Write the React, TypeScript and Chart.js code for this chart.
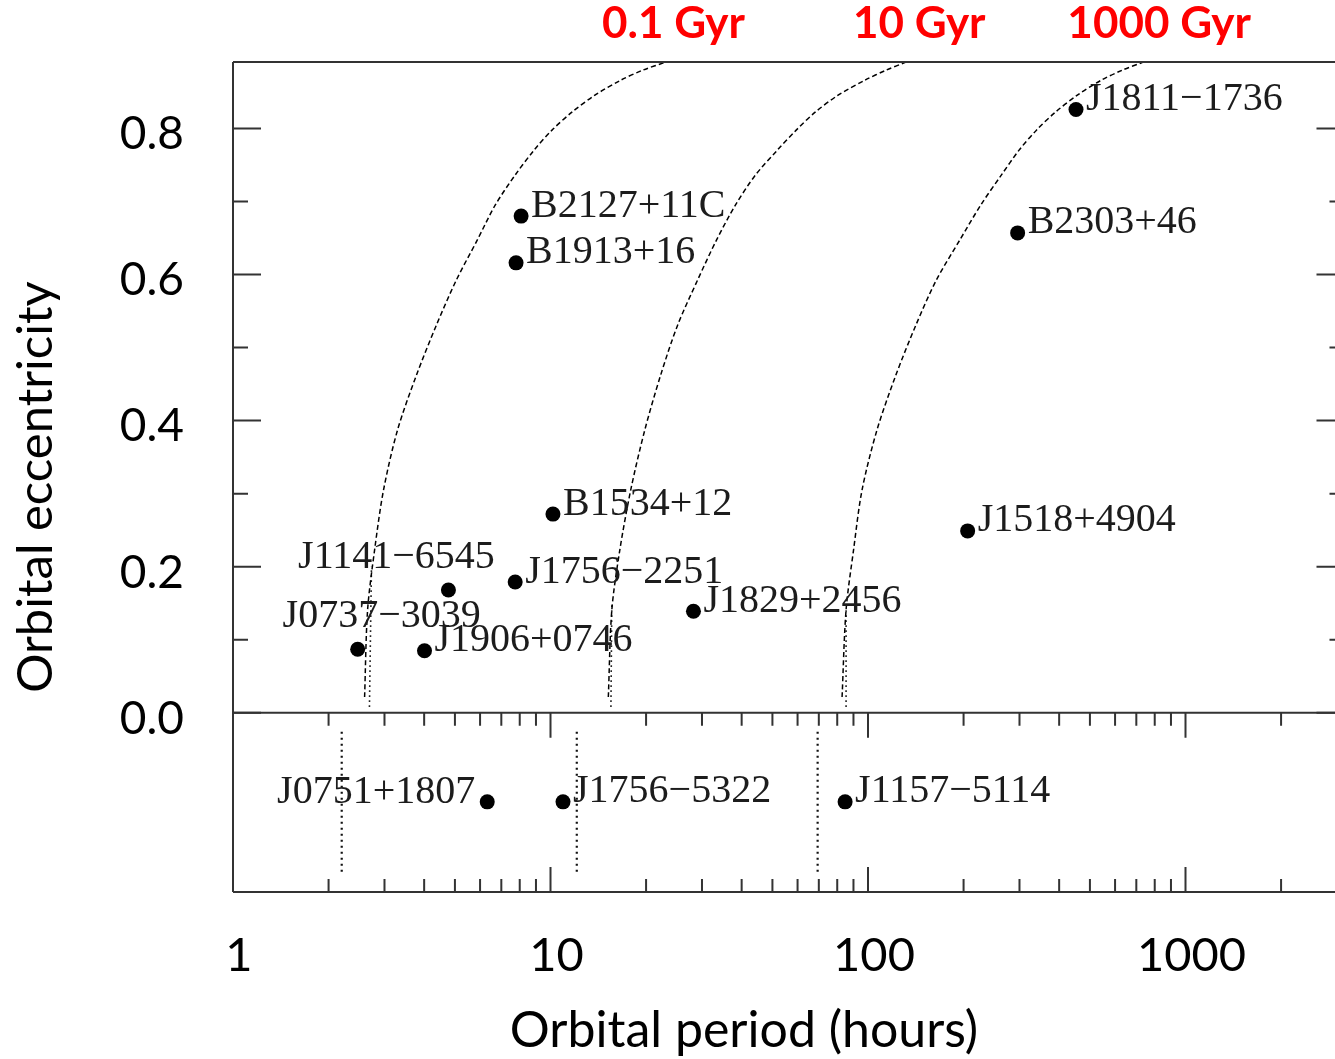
import React, { useEffect, useRef } from 'react';
import { Chart, registerables } from 'chart.js';

Chart.register(...registerables);

// ---------- axis / tick labels ----------
const X_TICK_LABELS = [1, 10, 100, 1000];
const Y_MAJOR = [0, 0.2, 0.4, 0.6, 0.8];
const Y_MINOR = [0.1, 0.3, 0.5, 0.7];
const X_TITLE = 'Orbital period (hours)';
const Y_TITLE = 'Orbital eccentricity';

// ---------- eccentric binaries (upper panel) ----------
const ECC_NAMES = ['J0737−3039', 'J1906+0746', 'J1141−6545', 'J1756−2251', 'B1534+12', 'J1829+2456', 'B2127+11C', 'B1913+16', 'J1518+4904', 'B2303+46', 'J1811−1736'];
const ECC_PERIOD = [2.47, 4.01, 4.77, 7.74, 10.18, 28.2, 8.08, 7.79, 206, 296, 452];
const ECC_VALUE = [0.087, 0.085, 0.168, 0.179, 0.272, 0.139, 0.680, 0.616, 0.249, 0.657, 0.826];

// ---------- binaries without measured eccentricity (lower panel) ----------
const LOWER_NAMES = ['J0751+1807', 'J1756−5322', 'J1157−5114'];
const LOWER_PERIOD = [6.32, 10.95, 84.7];
const LOWER_MARKER_PERIOD = [2.20, 12.1, 69.4];

// ---------- constant merger-time curves ----------
const GYR_LABELS = ['0.1 Gyr', '10 Gyr', '1000 Gyr'];
const GYR_LABEL_PERIOD = [24.4, 145, 826];

const CURVE_E = [0.0215, 0.1406, 0.2227, 0.3049, 0.3870, 0.4623, 0.5307, 0.5923, 0.6471, 0.6950, 0.7361, 0.7703, 0.7977, 0.8223, 0.8456, 0.8661, 0.8798, 0.8908];
const CURVE_01_P = [2.597, 2.654, 2.792, 2.979, 3.297, 3.783, 4.371, 5.050, 5.878, 6.695, 7.735, 8.877, 10.11, 11.68, 13.80, 16.65, 19.52, 23.05];
const CURVE_10_P = [15.21, 15.60, 16.53, 17.89, 19.81, 22.23, 25.14, 29.05, 33.32, 38.22, 44.19, 51.81, 59.41, 68.18, 80.52, 97.85, 113.9, 131.6];
const CURVE_1000_P = [82.86, 85.29, 90.04, 95.76, 106.7, 122.4, 141.5, 164.1, 194.5, 226.4, 262.9, 299.1, 339.3, 389.3, 456.4, 542.9, 632.0, 735.7];

// dotted continuations near e = 0
const TAIL_P_TOP = [2.73, 15.6, 85.3];
const TAIL_E_TOP = [0.200, 0.150, 0.143];
const TAIL_P_BOTTOM = [2.69, 15.5, 85.3];
const TAIL_E_BOTTOM = [0.008, 0.008, 0.008];

// ---------- layout / style config ----------
const X_MIN = 1;
const X_MAX = 3168;
const Y_MIN = -0.2454;
const Y_MAX = 0.891;
const LOWER_ROW = -0.122;
const LOWER_MARKER_TOP = -0.026;
const LOWER_MARKER_BOTTOM = -0.222;

const LABEL_OFFSETS: Record<string, { dx: number; dy: number; align: CanvasTextAlign }> = {
  'J0737−3039': { dx: 24, dy: -33, align: 'center' },
  'J1141−6545': { dx: -52, dy: -33, align: 'center' },
  'J0751+1807': { dx: -12, dy: -9, align: 'right' },
};
const DEFAULT_OFFSET = { dx: 10, dy: -10, align: 'left' as CanvasTextAlign };

const zeroPad = (s: any) => {
  s.paddingTop = 0;
  s.paddingBottom = 0;
  s.paddingLeft = 0;
  s.paddingRight = 0;
};

const decor = {
  id: 'decor',
  afterDatasetsDraw(chart: any) {
    const { ctx, chartArea: ca, scales } = chart;
    const x = scales.x;
    const y = scales.y;
    const y0 = y.getPixelForValue(0);
    ctx.save();

    // frame
    ctx.strokeStyle = '#333';
    ctx.lineWidth = 2;
    ctx.setLineDash([]);
    ctx.beginPath();
    ctx.moveTo(ca.left, ca.top); ctx.lineTo(ca.right, ca.top);
    ctx.moveTo(ca.left, ca.top); ctx.lineTo(ca.left, ca.bottom);
    ctx.moveTo(ca.right, ca.top); ctx.lineTo(ca.right, ca.bottom);
    ctx.moveTo(ca.left, ca.bottom); ctx.lineTo(ca.right, ca.bottom);
    ctx.moveTo(ca.left, y0); ctx.lineTo(ca.right, y0);
    ctx.stroke();

    // y ticks (inside, both sides)
    ctx.beginPath();
    const yTick = (v: number, len: number) => {
      const p = y.getPixelForValue(v);
      ctx.moveTo(ca.left, p); ctx.lineTo(ca.left + len, p);
      ctx.moveTo(ca.right, p); ctx.lineTo(ca.right - len, p);
    };
    Y_MAJOR.forEach((v) => yTick(v, 28));
    Y_MINOR.forEach((v) => yTick(v, 15));

    // x ticks (on divider pointing down and on bottom pointing up)
    x.ticks.forEach((t: any) => {
      const v = t.value;
      const e = Math.floor(Math.log10(v) + 1e-9);
      const sig = v / Math.pow(10, e);
      if (Math.abs(sig - Math.round(sig)) > 1e-6) return;
      const major = Math.abs(sig - 1) < 1e-6;
      const len = major ? 25 : 13;
      const p = x.getPixelForValue(v);
      if (p <= ca.left + 1 || p >= ca.right - 1) return;
      ctx.moveTo(p, y0); ctx.lineTo(p, y0 + len);
      ctx.moveTo(p, ca.bottom); ctx.lineTo(p, ca.bottom - len);
    });
    ctx.stroke();

    // pulsar labels
    const names = [...ECC_NAMES, ...LOWER_NAMES];
    const meta = chart.getDatasetMeta(chart.data.datasets.length - 1);
    ctx.font = '40px "Liberation Serif"';
    ctx.fillStyle = '#1c1c1c';
    ctx.textBaseline = 'middle';
    meta.data.forEach((el: any, i: number) => {
      const o = LABEL_OFFSETS[names[i]] || DEFAULT_OFFSET;
      ctx.textAlign = o.align;
      ctx.fillText(names[i], el.x + o.dx, el.y + o.dy);
    });

    // merger-time labels
    ctx.font = 'bold 44px Lato';
    ctx.fillStyle = '#ff0000';
    ctx.textAlign = 'center';
    ctx.textBaseline = 'alphabetic';
    GYR_LABELS.forEach((s, i) => {
      ctx.fillText(s, x.getPixelForValue(GYR_LABEL_PERIOD[i]), 38);
    });

    // axis titles
    ctx.fillStyle = '#000';
    ctx.font = '50px Lato';
    ctx.textAlign = 'center';
    ctx.textBaseline = 'alphabetic';
    ctx.fillText(X_TITLE, 744, 1047);
    ctx.save();
    ctx.translate(36, 487);
    ctx.rotate(-Math.PI / 2);
    ctx.font = '49px Lato';
    ctx.textBaseline = 'middle';
    ctx.fillText(Y_TITLE, 0, 0);
    ctx.restore();

    ctx.restore();
  },
};

function pts(P: number[], E: number[]) {
  return P.map((p, i) => ({ x: p, y: E[i] }));
}

export default function App() {
  const ref = useRef<HTMLCanvasElement>(null);

  useEffect(() => {
    const canvas = ref.current;
    if (!canvas) return;

    const curve = (P: number[]) => ({
      data: pts(P, CURVE_E),
      showLine: true,
      borderColor: '#000',
      borderWidth: 1.5,
      borderDash: [5, 3],
      pointRadius: 0,
      tension: 0.3,
      fill: false,
    });

    const tails = TAIL_P_TOP.map((p, i) => ({
      data: [
        { x: TAIL_P_BOTTOM[i], y: TAIL_E_BOTTOM[i] },
        { x: p, y: TAIL_E_TOP[i] },
      ],
      showLine: true,
      borderColor: '#222',
      borderWidth: 1.6,
      borderDash: [1.6, 3.4],
      pointRadius: 0,
    }));

    const markers = LOWER_MARKER_PERIOD.map((p) => ({
      data: [
        { x: p, y: LOWER_MARKER_TOP },
        { x: p, y: LOWER_MARKER_BOTTOM },
      ],
      showLine: true,
      borderColor: '#111',
      borderWidth: 2.2,
      borderDash: [2, 4],
      pointRadius: 0,
    }));

    const points = {
      data: [
        ...pts(ECC_PERIOD, ECC_VALUE),
        ...LOWER_PERIOD.map((p) => ({ x: p, y: LOWER_ROW })),
      ],
      showLine: false,
      pointRadius: 7.5,
      pointHoverRadius: 7.5,
      pointBackgroundColor: '#000',
      pointBorderWidth: 0,
      backgroundColor: '#000',
      borderColor: '#000',
    };

    const chart = new Chart(canvas, {
      type: 'scatter',
      data: {
        datasets: [
          curve(CURVE_01_P),
          curve(CURVE_10_P),
          curve(CURVE_1000_P),
          ...tails,
          ...markers,
          points,
        ] as any,
      },
      options: {
        responsive: false,
        animation: false,
        devicePixelRatio: 1,
        layout: { padding: { left: 0, top: 62, right: 4, bottom: 0 } },
        plugins: { legend: { display: false }, tooltip: { enabled: false } },
        events: [],
        scales: {
          x: {
            type: 'logarithmic',
            min: X_MIN,
            max: X_MAX,
            position: 'bottom',
            grid: { display: false, drawTicks: false },
            border: { display: false },
            afterFit: (s: any) => { s.height = 167; zeroPad(s); },
            ticks: {
              autoSkip: false,
              maxRotation: 0,
              minRotation: 0,
              padding: 36,
              labelOffset: 6,
              color: '#000',
              font: { family: 'Lato', size: 47 },
              callback: (v: any) => (X_TICK_LABELS.includes(Number(v)) ? String(Number(v)) : ''),
            },
          },
          y: {
            type: 'linear',
            min: Y_MIN,
            max: Y_MAX,
            grid: { display: false, drawTicks: false },
            border: { display: false },
            afterBuildTicks: (s: any) => { s.ticks = Y_MAJOR.map((v) => ({ value: v })); },
            afterFit: (s: any) => { s.width = 233; zeroPad(s); },
            ticks: {
              padding: 49,
              labelOffset: 6,
              color: '#000',
              font: { family: 'Lato', size: 46 },
              callback: (v: any) => Number(v).toFixed(1),
            },
          },
        },
      } as any,
      plugins: [decor],
    });

    return () => chart.destroy();
  }, []);

  return (
    <div style={{ position: 'fixed', left: 0, top: 0, width: 1335, height: 1059, overflow: 'hidden', background: '#fff' }}>
      <canvas ref={ref} width={1352} height={1059} style={{ display: 'block', width: 1352, height: 1059 }} />
    </div>
  );
}
